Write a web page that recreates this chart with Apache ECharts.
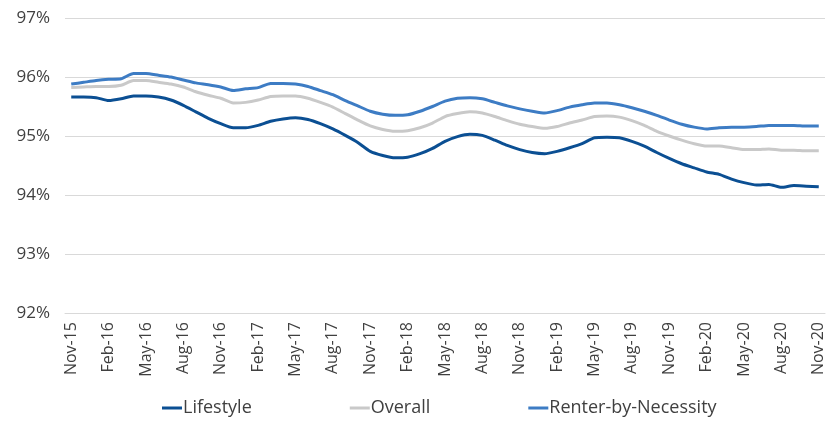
<!DOCTYPE html>
<html>
<head>
<meta charset="utf-8">
<script src="https://cdn.jsdelivr.net/npm/echarts@6/dist/echarts.min.js"></script>
<style>
  html, body { margin: 0; padding: 0; background: #fff; }
  #chart { width: 837px; height: 422px; }
</style>
</head>
<body>
<div id="chart"></div>
<script>
// monthly, Nov-15 .. Nov-20
var monthNames = ['Jan','Feb','Mar','Apr','May','Jun','Jul','Aug','Sep','Oct','Nov','Dec'];
var months = [];
for (var k = 0; k < 61; k++) {
    var m = (10 + k) % 12;
    var yr = 15 + Math.floor((10 + k) / 12);
    months.push(monthNames[m] + '-' + yr);
}

var lifestyle = [
    95.66, 95.66, 95.65, 95.60, 95.63, 95.68, 95.68, 95.66, 95.61, 95.52,
    95.41, 95.30, 95.21, 95.14, 95.14, 95.18, 95.25, 95.29, 95.31, 95.28,
    95.21, 95.12, 95.01, 94.89, 94.74, 94.67, 94.63, 94.64, 94.70, 94.79,
    94.91, 94.99, 95.03, 95.01, 94.93, 94.84, 94.77, 94.72, 94.70, 94.74,
    94.80, 94.87, 94.97, 94.98, 94.97, 94.91, 94.83, 94.72, 94.62, 94.53,
    94.46, 94.39, 94.35, 94.27, 94.21, 94.17, 94.18, 94.13, 94.16, 94.15,
    94.14
];
var overall = [
    95.82, 95.83, 95.84, 95.84, 95.86, 95.94, 95.94, 95.91, 95.88, 95.83,
    95.75, 95.69, 95.64, 95.56, 95.57, 95.61, 95.67, 95.68, 95.68, 95.64,
    95.57, 95.49, 95.38, 95.27, 95.17, 95.11, 95.08, 95.09, 95.14, 95.22,
    95.33, 95.38, 95.41, 95.39, 95.33, 95.26, 95.20, 95.16, 95.13, 95.16,
    95.22, 95.27, 95.33, 95.34, 95.32, 95.26, 95.18, 95.08, 95.00, 94.93,
    94.87, 94.83, 94.83, 94.80, 94.77, 94.77, 94.78, 94.76, 94.76, 94.75,
    94.75
];
var renterByNecessity = [
    95.88, 95.91, 95.94, 95.96, 95.97, 96.06, 96.06, 96.03, 96.00, 95.95,
    95.90, 95.87, 95.83, 95.77, 95.80, 95.82, 95.89, 95.89, 95.88, 95.84,
    95.77, 95.70, 95.60, 95.51, 95.42, 95.37, 95.35, 95.36, 95.42, 95.50,
    95.59, 95.64, 95.65, 95.63, 95.57, 95.51, 95.46, 95.42, 95.39, 95.43,
    95.49, 95.53, 95.56, 95.56, 95.53, 95.48, 95.42, 95.35, 95.27, 95.20,
    95.15, 95.12, 95.14, 95.15, 95.15, 95.16, 95.18, 95.18, 95.18, 95.17,
    95.17
];

var textColor = '#404040';
var font = '"Open Sans", "Noto Sans", sans-serif';

var chart = echarts.init(document.getElementById('chart'));

function line(name, data, color) {
    return {
        name: name,
        type: 'line',
        data: data,
        symbol: 'none',
        smooth: 0.2,
        lineStyle: { color: color, width: 3 },
        itemStyle: { color: color },
        emphasis: { disabled: true }
    };
}

chart.setOption({
    animation: false,
    textStyle: { fontFamily: font },
    grid: { left: 65, right: 12, top: 18, bottom: 109 },
    legend: {
        bottom: 0,
        left: 157,
        itemWidth: 20,
        itemHeight: 3,
        itemGap: 98,
        icon: 'rect',
        textStyle: { color: textColor, fontSize: 18, fontFamily: font, padding: [0, 0, 0, -4] },
        data: ['Lifestyle', 'Overall', 'Renter-by-Necessity']
    },
    xAxis: {
        type: 'category',
        data: months,
        boundaryGap: true,
        axisLine: { show: true, lineStyle: { color: '#d9d9d9', width: 1 } },
        axisTick: { show: false },
        axisLabel: {
            interval: 2,
            rotate: 90,
            margin: 9,
            color: textColor,
            fontSize: 16,
            fontFamily: font
        }
    },
    yAxis: {
        type: 'value',
        min: 92,
        max: 97,
        interval: 1,
        axisLine: { show: false },
        axisTick: { show: false },
        splitLine: { lineStyle: { color: '#d9d9d9', width: 1 } },
        axisLabel: {
            margin: 15,
            color: textColor,
            fontSize: 17,
            fontFamily: font,
            formatter: function (v) { return v + '%'; }
        }
    },
    series: [
        line('Lifestyle', lifestyle, '#0b4f93'),
        line('Overall', overall, '#c9c9c9'),
        line('Renter-by-Necessity', renterByNecessity, '#3d7cc4')
    ]
});
</script>
</body>
</html>
